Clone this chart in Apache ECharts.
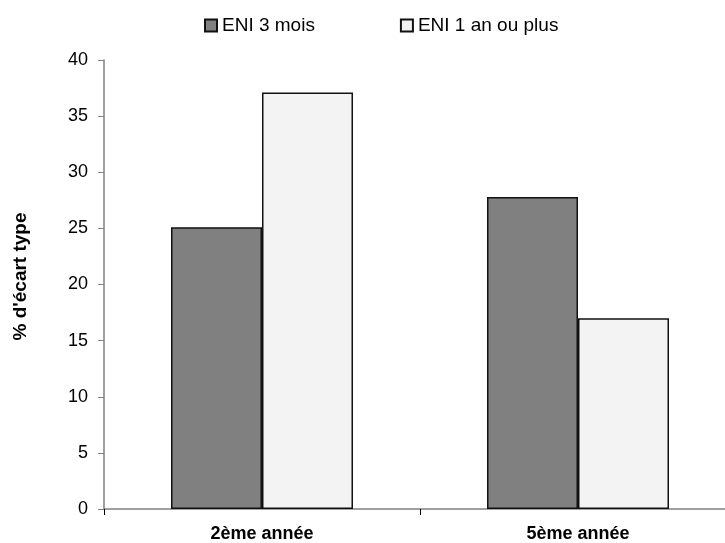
<!DOCTYPE html>
<html><head><meta charset="utf-8">
<script src="https://cdn.jsdelivr.net/npm/echarts@6/dist/echarts.min.js"></script>
<style>html,body{margin:0;padding:0;background:#fff}#c{width:725px;height:543px}</style>
</head><body><div id="c"></div>
<script>
const categories = ['2ème année', '5ème année'];
const seriesNames = ['ENI 3 mois', 'ENI 1 an ou plus'];
const eni3mois = [25.1, 27.8];
const eni1an = [37.1, 17.0];
const yTicks = {min: 0, max: 40, interval: 5};

const chart = echarts.init(document.getElementById('c'), null, {renderer: 'canvas'});
const font = 'Liberation Sans, Arial, sans-serif';
chart.setOption({
  animation: false,
  textStyle: {fontFamily: font},
  legend: {
    top: 11, left: 199, itemGap: 85, itemWidth: 12, itemHeight: 12,
    icon: 'rect',
    textStyle: {fontSize: 19, color: '#000', fontFamily: font},
    data: seriesNames
  },
  grid: {left: 104, top: 60, bottom: 34, width: 632, outerBoundsMode: 'none'},
  xAxis: {
    type: 'category', data: categories,
    axisLine: {lineStyle: {color: '#808080', width: 1.5}},
    axisTick: {show: true, length: 6, lineStyle: {color: '#000'}},
    axisLabel: {color: '#000', fontWeight: 'bold', fontSize: 18, margin: 16, fontFamily: font}
  },
  yAxis: {
    type: 'value', min: yTicks.min, max: yTicks.max, interval: yTicks.interval,
    name: "% d'écart type", nameLocation: 'middle', nameGap: 74, nameRotate: 90,
    nameTextStyle: {fontWeight: 'bold', fontSize: 19, color: '#000', fontFamily: font, padding: [0, 0, 0, 16]},
    axisLine: {show: true, lineStyle: {color: '#808080', width: 1.5}},
    axisTick: {show: true, length: 6, lineStyle: {color: '#808080'}},
    splitLine: {show: false},
    axisLabel: {color: '#000', fontSize: 18, margin: 16, fontFamily: font}
  },
  series: [
    {name: seriesNames[0], type: 'bar', data: eni3mois, barWidth: 91, barGap: '0%',
     itemStyle: {color: '#808080', borderColor: '#111', borderWidth: 1.5}},
    {name: seriesNames[1], type: 'bar', data: eni1an, barWidth: 91, barGap: '0%',
     itemStyle: {color: '#f3f3f3', borderColor: '#111', borderWidth: 1.5}}
  ]
});
</script></body></html>
